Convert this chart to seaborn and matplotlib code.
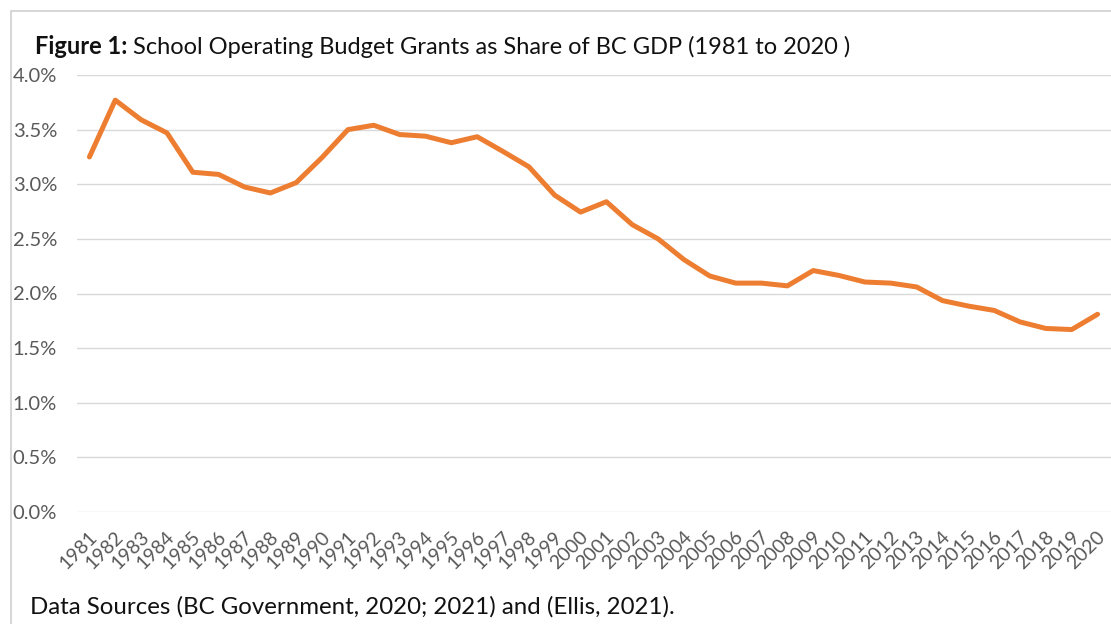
import matplotlib
matplotlib.use("Agg")
import matplotlib.pyplot as plt
import matplotlib.transforms as mtransforms
import seaborn as sns
import pandas as pd
from matplotlib.patches import Rectangle
from matplotlib.ticker import FuncFormatter

years = list(range(1981, 2021))
share_pct = [3.25, 3.77, 3.59, 3.47, 3.11, 3.09, 2.975, 2.92, 3.015, 3.245,
             3.50, 3.54, 3.455, 3.44, 3.38, 3.435, 3.30, 3.16, 2.90, 2.745,
             2.84, 2.63, 2.50, 2.31, 2.16, 2.095, 2.095, 2.07, 2.21, 2.165,
             2.105, 2.095, 2.06, 1.935, 1.885, 1.845, 1.74, 1.68, 1.67, 1.81]
y_ticks = [0.0, 0.5, 1.0, 1.5, 2.0, 2.5, 3.0, 3.5, 4.0]

title_bold = "Figure 1:"
title_rest = " School Operating Budget Grants as Share of BC GDP (1981 to 2020 )"
footer = "Data Sources (BC Government, 2020; 2021) and (Ellis, 2021)."

df = pd.DataFrame({"year": years, "share": share_pct})

sns.set_theme(style="white")
plt.rcParams["font.family"] = ["Lato", "DejaVu Sans"]

W, H = 1111, 624
fig = plt.figure(figsize=(W / 100, H / 100), dpi=100)
ax = fig.add_axes([76.5 / W, 1 - 512 / H, (1110.5 - 76.5) / W, (512 - 75) / H])

sns.lineplot(data=df, x="year", y="share", ax=ax, color="#ED7D31",
             linewidth=3.6, solid_capstyle="round", solid_joinstyle="round")

ax.set_xlim(years[0] - 0.5, years[-1] + 0.5)
ax.set_ylim(0, 4.0)
ax.set_yticks(y_ticks)
ax.yaxis.set_major_formatter(FuncFormatter(lambda v, p: f"{v:.1f}%"))
ax.set_xticks(years)
ax.set_xticklabels([str(y) for y in years], rotation=45, ha="right",
                   va="center", rotation_mode="anchor")
ax.grid(axis="y", color="#d9d9d9", linewidth=1.0)
ax.grid(axis="x", visible=False)
for s in ax.spines.values():
    s.set_visible(False)
ax.tick_params(axis="y", length=0, pad=14, labelsize=14.5, labelcolor="#595959")
ax.tick_params(axis="x", length=0, pad=16, labelsize=14, labelcolor="#595959")
shift = mtransforms.ScaledTranslation(5 / 100, 0, fig.dpi_scale_trans)
for lbl in ax.get_xticklabels():
    lbl.set_transform(lbl.get_transform() + shift)
ax.set_xlabel("")
ax.set_ylabel("")

# title
t1 = fig.text(35 / W, 1 - 47 / H, title_bold, fontsize=17, fontweight="bold",
              color="#111111", ha="left", va="center")
fig.canvas.draw()
bb = t1.get_window_extent()
fig.text(bb.x1 / W, 1 - 47 / H, title_rest, fontsize=17, color="#111111",
         ha="left", va="center")

fig.text(30 / W, 1 - 607 / H, footer, fontsize=17.3, color="#111111",
         ha="left", va="center")

# border
fig.patches.append(Rectangle((11 / W, -0.1), 1.2, 1 - 11 / H + 0.1,
                             transform=fig.transFigure, fill=False,
                             edgecolor="#d0d0d0", linewidth=1.2))

fig.savefig("out.png", dpi=100, facecolor="white")
